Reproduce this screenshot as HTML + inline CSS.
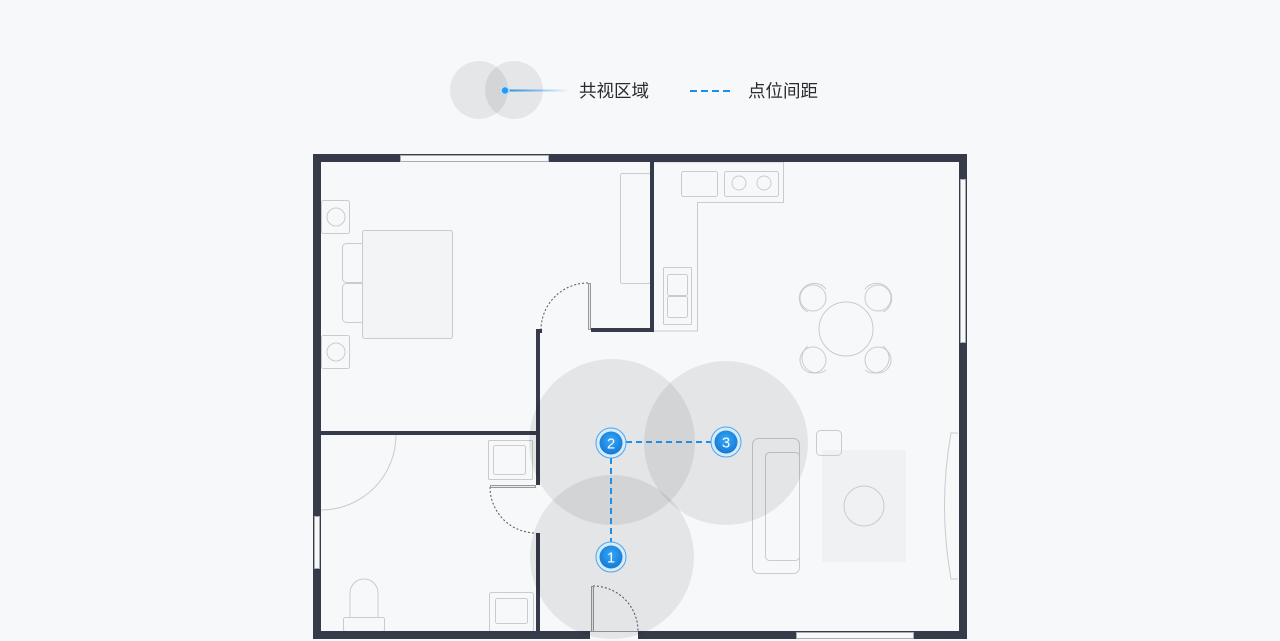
<!DOCTYPE html>
<html><head><meta charset="utf-8"><style>
html,body{margin:0;padding:0;background:#f7f8fa;}
svg{display:block}
text{font-family:"Liberation Sans","Noto Sans CJK SC",sans-serif;}
</style></head><body>
<svg width="1280" height="641" viewBox="0 0 1280 641" xmlns="http://www.w3.org/2000/svg">
<defs>
<linearGradient id="lg" x1="0" x2="1"><stop offset="0" stop-color="#1e8fe6"/><stop offset="1" stop-color="#1e8fe6" stop-opacity="0"/></linearGradient>
<radialGradient id="mk" cx="0.5" cy="0.4" r="0.6"><stop offset="0" stop-color="#35a8f8"/><stop offset="1" stop-color="#1479d6"/></radialGradient>
</defs>
<rect width="1280" height="641" fill="#f7f8fa"/>
<!-- legend -->
<circle cx="479" cy="90" r="29" fill="#000" fill-opacity="0.07"/>
<circle cx="514" cy="90" r="29" fill="#000" fill-opacity="0.07"/>
<rect x="505" y="89.5" width="65" height="2" fill="url(#lg)"/>
<circle cx="505" cy="90.5" r="4" fill="#2a9af0" stroke="#bfe0fb" stroke-width="1.5"/>
<text x="579" y="97" font-size="17.5" fill="#2a2a2a">共视区域</text>
<line x1="690" y1="91" x2="734" y2="91" stroke="#1e8fe6" stroke-width="2" stroke-dasharray="7,4"/>
<text x="748" y="97" font-size="17.5" fill="#2a2a2a">点位间距</text>

<g fill="none" stroke="#c9cbcf" stroke-width="1">
<rect x="321.5" y="200.5" width="28" height="33" rx="2"/>
<circle cx="336" cy="217" r="9"/>
<rect x="321.5" y="335.5" width="28" height="33" rx="2"/>
<circle cx="336" cy="352" r="9"/>
<rect x="342.5" y="243.5" width="22" height="39" rx="4"/>
<rect x="342.5" y="283.5" width="22" height="39" rx="4"/>
<rect x="362.5" y="230.5" width="90" height="108" rx="2" fill="#f3f4f6"/>
<rect x="620.5" y="173.5" width="30" height="110" rx="2"/>
<polyline points="654,162 783.5,162 783.5,202.5 697.5,202.5 697.5,331 654,331"/>
<rect x="681.5" y="171.5" width="36" height="25" rx="2"/>
<rect x="724.5" y="171.5" width="54" height="25" rx="2"/>
<circle cx="739" cy="183" r="7"/><circle cx="764" cy="183" r="7"/>
<rect x="663.5" y="267.5" width="28" height="57" rx="1"/>
<rect x="667.5" y="274.5" width="20" height="21" rx="2"/>
<rect x="667.5" y="296.5" width="20" height="21" rx="2"/>
<circle cx="846" cy="329" r="27"/>
<circle cx="813" cy="298" r="13"/><circle cx="878" cy="298" r="13"/>
<circle cx="813" cy="360" r="13"/><circle cx="878" cy="360" r="13"/>
<path d="M826 289 A15 15 0 1 0 808 312"/><path d="M865 289 A15 15 0 1 1 883 312"/>
<path d="M808 346 A15 15 0 1 0 826 370"/><path d="M883 346 A15 15 0 1 1 865 370"/>
<rect x="822" y="450" width="84" height="112" fill="#f0f1f3" stroke="none"/>
<circle cx="864" cy="506" r="20"/>
<rect x="816.5" y="430.5" width="25" height="25" rx="4"/>
<rect x="752.5" y="438.5" width="47" height="135" rx="6"/>
<rect x="765.5" y="452.5" width="34" height="108" rx="4"/>
<path d="M958 433 L951 433 Q938 506 951 579 L958 579"/>
<path d="M396 435 A75 75 0 0 1 321 510"/>
<rect x="488.5" y="440.5" width="44" height="39" rx="1"/>
<rect x="493.5" y="445.5" width="32" height="29" rx="2"/>
<rect x="489.5" y="592.5" width="44" height="39" rx="2"/>
<rect x="495.5" y="598.5" width="32" height="25" rx="2"/>
<path d="M350 617 L350 593 A14 14 0 0 1 378 593 L378 617"/>
<rect x="343.5" y="617.5" width="41" height="14" rx="2"/>
</g>
<g fill="none" stroke="#555" stroke-width="1" stroke-dasharray="2,2">
<path d="M588 283 A47 47 0 0 0 541 330"/>
<path d="M490 487 A46 46 0 0 0 536 533"/>
<path d="M593 586 A45 45 0 0 1 638 631"/>
</g>
<g fill="#e8e9eb" stroke="#999" stroke-width="1">
<rect x="588.5" y="283.5" width="2" height="46"/>
<rect x="490.5" y="485.5" width="45" height="2"/>
<rect x="591.5" y="586.5" width="2" height="45"/>
</g>
<g fill="#363b4b">
<rect x="313" y="154" width="654" height="8"/>
<rect x="313" y="631" width="654" height="8"/>
<rect x="313" y="154" width="8" height="485"/>
<rect x="959" y="154" width="8" height="485"/>
<rect x="650" y="162" width="4" height="170"/>
<rect x="591" y="328" width="63" height="4"/>
<rect x="536" y="329" width="4" height="156"/>
<rect x="536" y="533" width="4" height="100"/>
<rect x="321" y="431" width="219" height="4"/>
<rect x="536" y="329" width="6" height="4"/>
</g>
<g fill="#f7f8fa" stroke="#a9abb0" stroke-width="1">
<rect x="400.5" y="155.5" width="148" height="6"/>
<rect x="960.5" y="179.5" width="5" height="163"/>
<rect x="796.5" y="632.5" width="117" height="6"/>
<rect x="314.5" y="516.5" width="5" height="52"/>
<rect x="590" y="631.5" width="48" height="9" stroke="none"/>
</g>
<g fill="#000" fill-opacity="0.075">
<circle cx="612" cy="557" r="82"/>
<circle cx="612" cy="442" r="83"/>
<circle cx="726" cy="443" r="82"/>
</g>
<g stroke="#1e8fe6" stroke-width="2" stroke-dasharray="6,4" fill="none">
<line x1="626" y1="442" x2="711" y2="442"/>
<line x1="611" y1="458" x2="611" y2="542"/>
</g>
<g font-size="15" fill="#fff" text-anchor="middle">
<circle cx="611" cy="443" r="15" fill="#d8ebfb" stroke="#4aa5ee" stroke-width="1"/>
<circle cx="611" cy="443" r="11.5" fill="url(#mk)"/>
<text x="611" y="448.5">2</text>
<circle cx="726" cy="442" r="15" fill="#d8ebfb" stroke="#4aa5ee" stroke-width="1"/>
<circle cx="726" cy="442" r="11.5" fill="url(#mk)"/>
<text x="726" y="447.5">3</text>
<circle cx="611" cy="557" r="15" fill="#d8ebfb" stroke="#4aa5ee" stroke-width="1"/>
<circle cx="611" cy="557" r="11.5" fill="url(#mk)"/>
<text x="611" y="562.5">1</text>
</g>
</svg>
</body></html>
